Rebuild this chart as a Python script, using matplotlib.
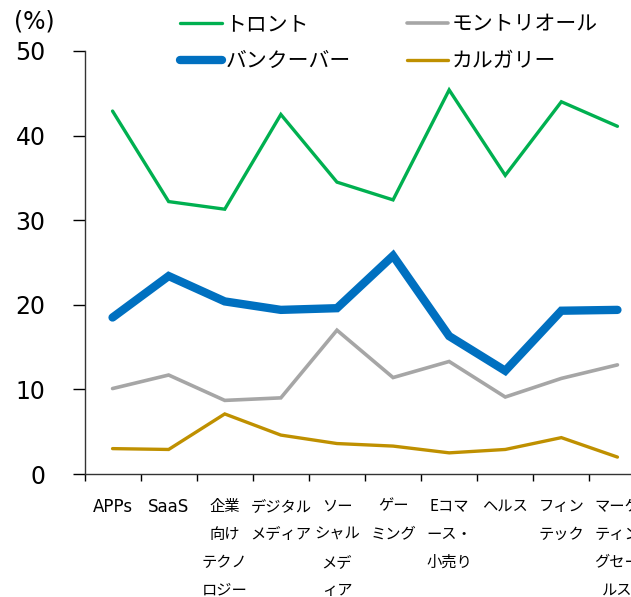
import matplotlib
matplotlib.use("Agg")
import matplotlib.pyplot as plt

plt.rcParams['font.family'] = ['DejaVu Sans', 'Noto Sans CJK JP']

categories = [
    "APPs", "SaaS", "企業\n向け\nテクノ\nロジー", "デジタル\nメディア",
    "ソー\nシャル\nメデ\nィア", "ゲー\nミング", "Eコマ\nース・\n小売り",
    "ヘルス", "フィン\nテック", "マーケ\nティン\nグセー\nルス",
]
toronto = [42.9, 32.2, 31.3, 42.5, 34.5, 32.4, 45.4, 35.3, 44.0, 41.1]
vancouver = [18.5, 23.4, 20.4, 19.4, 19.6, 25.8, 16.3, 12.2, 19.3, 19.4]
montreal = [10.1, 11.7, 8.7, 9.0, 17.0, 11.4, 13.3, 9.1, 11.3, 12.9]
calgary = [3.0, 2.9, 7.1, 4.6, 3.6, 3.3, 2.5, 2.9, 4.3, 2.0]
y_ticks = [0, 10, 20, 30, 40, 50]

fig = plt.figure(figsize=(6.31, 5.97), dpi=100)
ax = fig.add_axes([84.5 / 631, 1 - 474 / 597, 561 / 631, 423 / 597])

x = list(range(len(categories)))
series = [
    ("トロント", toronto, "#00B050", 2.4),
    ("バンクーバー", vancouver, "#0070C0", 6.0),
    ("モントリオール", montreal, "#A6A6A6", 2.6),
    ("カルガリー", calgary, "#BF9000", 2.4),
]
for name, vals, color, lw in series:
    ax.plot(x, vals, color=color, lw=lw, solid_capstyle="round",
            solid_joinstyle="miter", label=name, clip_on=False)

ax.set_xlim(-0.5, len(categories) - 0.5)
ax.set_ylim(0, 50)
ax.set_yticks(y_ticks)
ax.tick_params(axis="y", labelsize=17, length=9, width=1, pad=19)

# category boundaries carry the tick marks; names sit between them
ax.set_xticks([i - 0.5 for i in range(len(categories))])
ax.set_xticklabels([])
ax.tick_params(axis="x", length=5, width=1)
ax.set_xticks(x, minor=True)
ax.set_xticklabels(categories, minor=True, fontsize=11,
                   linespacing=1.85, va="top", ha="center",
                   family=['Noto Sans CJK JP', 'DejaVu Sans'])
ax.tick_params(axis="x", which="minor", length=0, pad=17)
for lbl in ax.get_xticklabels(minor=True):
    if lbl.get_text() in ("APPs", "SaaS"):
        lbl.set_family(['DejaVu Sans'])
        lbl.set_fontsize(12)

for s in ("top", "right"):
    ax.spines[s].set_visible(False)
for s in ("left", "bottom"):
    ax.spines[s].set_linewidth(1)
    ax.spines[s].set_color("#333333")

fig.text(14 / 631, 1 - 21 / 597, "(%)", fontsize=17, va="center", ha="left")

handles, labels = ax.get_legend_handles_labels()
leg = fig.legend(handles, labels, ncol=2, loc="upper left",
                 bbox_to_anchor=(170 / 631, 1 - 3 / 597), frameon=False,
                 prop={'family': ['Noto Sans CJK JP'], 'size': 15},
                 handlelength=2.0, handletextpad=0.15,
                 columnspacing=2.7, labelspacing=0.72, borderpad=0)

fig.savefig("out.png", dpi=100)
